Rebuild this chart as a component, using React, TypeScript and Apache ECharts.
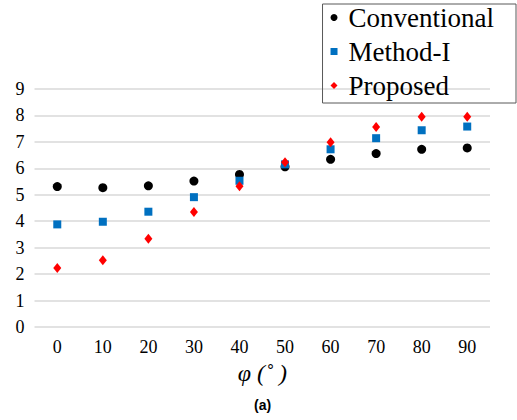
import React, { useEffect, useRef } from "react";
import * as echarts from "echarts";

const categories = ["0", "10", "20", "30", "40", "50", "60", "70", "80", "90"];
const yTicks = [0, 1, 2, 3, 4, 5, 6, 7, 8, 9];
const conventional = [5.31, 5.27, 5.34, 5.52, 5.77, 6.06, 6.34, 6.56, 6.72, 6.77];
const methodI = [3.88, 3.98, 4.36, 4.91, 5.53, 6.15, 6.72, 7.14, 7.44, 7.58];
const proposed = [2.23, 2.52, 3.34, 4.35, 5.32, 6.23, 6.99, 7.56, 7.95, 7.95];

const serif = "'Liberation Serif', 'Times New Roman', serif";

export default function App() {
  const ref = useRef<HTMLDivElement>(null);
  useEffect(() => {
    document.body.style.margin = "0";
    if (!ref.current) return;
    const chart = echarts.init(ref.current, undefined, { renderer: "svg" });
    chart.setOption({
      animation: false,
      backgroundColor: "#ffffff",
      grid: { left: 34.5, right: 27, top: 89, bottom: 93 },
      legend: {
        orient: "vertical",
        right: 1,
        top: 4,
        padding: [0, 22, 4, 8],
        itemGap: 7,
        itemWidth: 7,
        itemHeight: 7,
        borderColor: "#595959",
        borderWidth: 1,
        textStyle: { fontFamily: serif, fontSize: 27, color: "#000", padding: [0, 0, 0, 6] },
        data: [
          { name: "Conventional", icon: "circle", itemStyle: { color: "#000", opacity: 1 } },
          { name: "Method-I", icon: "rect", itemStyle: { color: "#0070C0", opacity: 1 } },
          { name: "Proposed", icon: "diamond", itemStyle: { color: "#FF0000", opacity: 1 } },
        ],
      },
      xAxis: {
        type: "category",
        data: categories,
        boundaryGap: true,
        axisLine: { show: false },
        axisTick: { show: false },
        axisLabel: { fontFamily: serif, fontSize: 18, color: "#000", margin: 11 },
        name: "φ (˚ )",
        nameLocation: "middle",
        nameGap: 34,
        nameTextStyle: { fontFamily: serif, fontSize: 24, color: "#000", fontStyle: "italic" },
      },
      yAxis: {
        type: "value",
        min: 0,
        max: 9,
        interval: 1,
        axisLine: { show: false },
        axisTick: { show: false },
        axisLabel: { fontFamily: serif, fontSize: 18, color: "#000", margin: 10 },
        splitLine: { lineStyle: { color: "#D9D9D9", width: 1.5 } },
      },
      graphic: [
        {
          type: "text",
          left: 254,
          top: 398,
          style: { text: "(a)", font: "bold 14px 'Liberation Sans', Arial, sans-serif", fill: "#000" },
        },
      ],
      series: [
        { name: "Conventional", type: "scatter", data: conventional, symbol: "circle", symbolSize: 9, itemStyle: { color: "#000", opacity: 1 } },
        { name: "Method-I", type: "scatter", data: methodI, symbol: "rect", symbolSize: 8, itemStyle: { color: "#0070C0", opacity: 1 } },
        { name: "Proposed", type: "scatter", data: proposed, symbol: "diamond", symbolSize: [8, 10], itemStyle: { color: "#FF0000", opacity: 1 } },
      ],
    });
    return () => chart.dispose();
  }, []);
  return <div ref={ref} style={{ width: 517, height: 420 }} />;
}
